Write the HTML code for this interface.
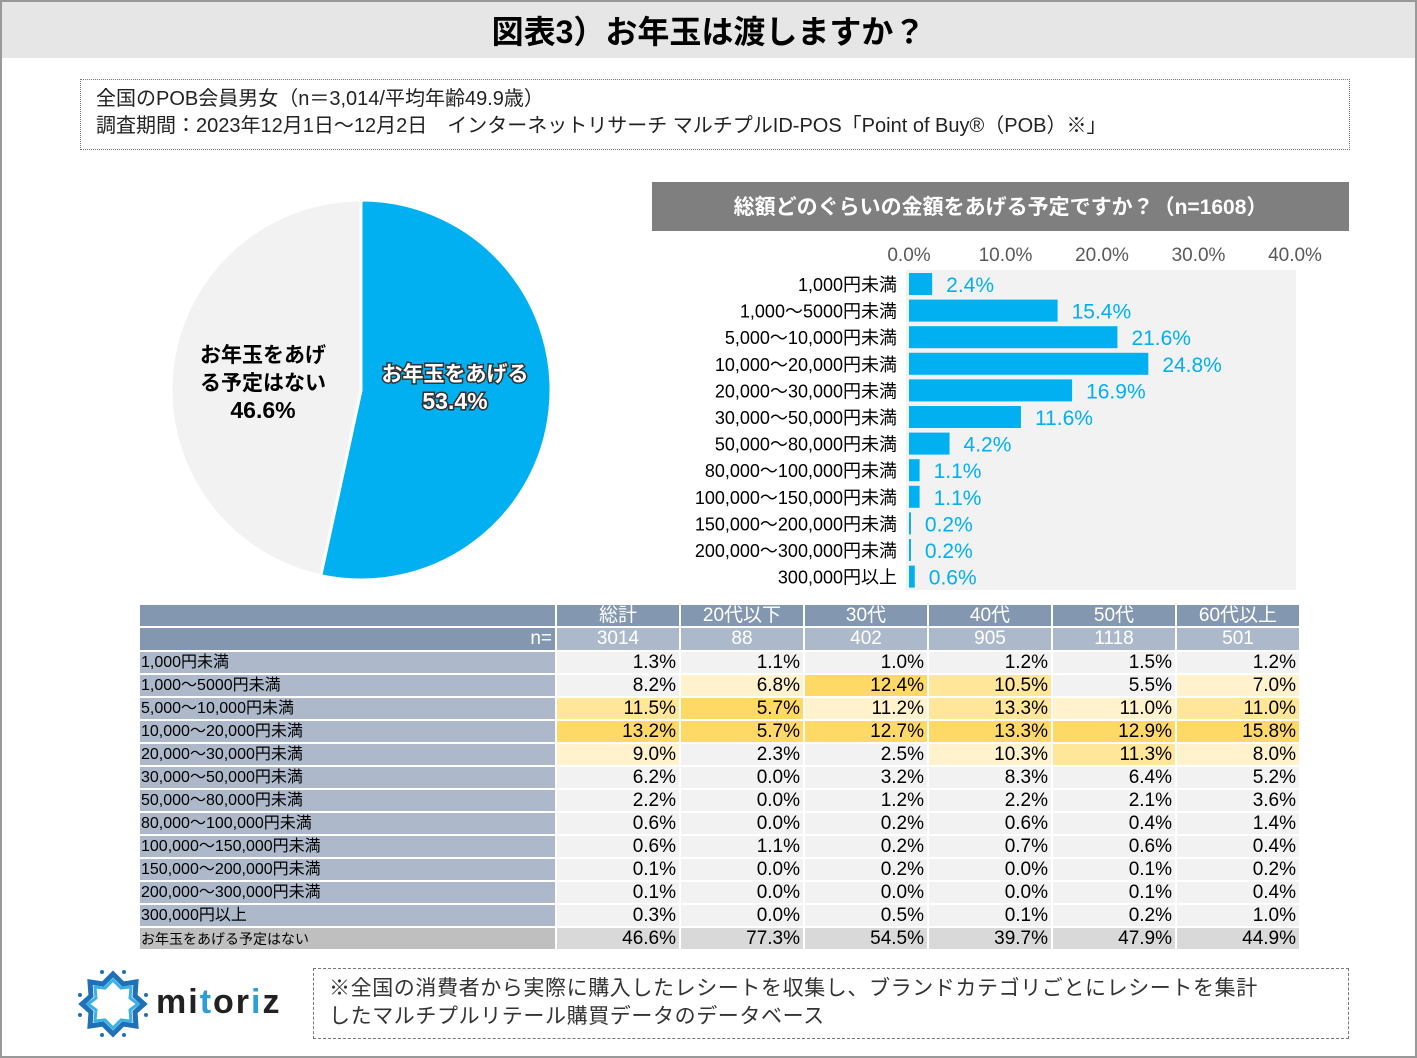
<!DOCTYPE html>
<html><head><meta charset="utf-8">
<style>
*{margin:0;padding:0;box-sizing:border-box}
body{width:1417px;height:1058px;background:#fff;position:relative;overflow:hidden;font-family:"Liberation Sans","Noto Sans CJK JP",sans-serif;color:#000}
.abs{position:absolute}
#frame{left:0;top:0;width:1417px;height:1058px;border:2px solid #999}
#title{left:2px;top:2px;width:1413px;height:56px;background:#e6e6e6;font-size:32px;font-weight:bold;text-align:center;line-height:60px}
#info{left:80px;top:79px;width:1270px;height:71px;border:1.5px dotted #777;font-size:20px;line-height:27px;padding:6px 15px;color:#222}
#barhead{left:652px;top:182px;width:697px;height:49px;background:#7f7f7f;color:#fff;font-weight:bold;font-size:21px;line-height:52px;text-align:center}
table{position:absolute;left:138px;top:603px;border-collapse:collapse;font-size:19px}
td{padding:0 3px;height:23px;line-height:21px;border:2px solid #fff;white-space:nowrap;overflow:hidden}
tr.d td{height:23px;line-height:20px}
td.l{width:417px;background:#adb9ca;font-size:16px;padding-left:1px}
td.v{text-align:right;background:#f2f2f2}
.h1{background:#8497b0;color:#fff;text-align:center;line-height:20px}
.h2{background:#acb9ca;color:#fff;text-align:center;line-height:22px}
.c1{background:#fff2cc!important}.c2{background:#ffe699!important}.c3{background:#ffd966!important}
#note{left:313px;top:968px;width:1036px;height:71px;border:1.5px dashed #777;font-size:21px;line-height:28px;padding:6px 15px;color:#333;letter-spacing:0.6px}
</style></head><body>
<div class="abs" id="frame"></div>
<div class="abs" id="title">図表3）お年玉は渡しますか？</div>
<div class="abs" id="info">全国のPOB会員男女（n＝3,014/平均年齢49.9歳）<br>調査期間：2023年12月1日～12月2日　インターネットリサーチ マルチプルID-POS「Point of Buy®（POB）※」</div>

<svg class="abs" style="left:0;top:0" width="1417" height="600" id="svg"></svg>
<div class="abs" id="barhead">総額どのぐらいの金額をあげる予定ですか？（n=1608）</div>

<table id="tbl"></table>

<svg class="abs" style="left:78px;top:968px" width="220" height="70">
<polygon points="35,6 45,16 58,14 57,28 66,36 57,44 58,58 45,56 35,66 25,56 12,58 13,44 4,36 13,28 12,14 25,16" fill="none" stroke="#1e70b8" stroke-width="5"/>
<polygon points="35,12 43,20 53,19 52,30 60,36 52,42 53,53 43,52 35,60 27,52 17,53 18,42 10,36 18,30 17,19 27,20" fill="none" stroke="#3bb0e6" stroke-width="3"/>
<g fill="#1e70b8"><circle cx="24" cy="4" r="2"/><circle cx="46" cy="4" r="2"/><circle cx="2" cy="27" r="2"/><circle cx="68" cy="27" r="2"/><circle cx="2" cy="47" r="2"/><circle cx="68" cy="47" r="2"/><circle cx="24" cy="67" r="2"/><circle cx="46" cy="67" r="2"/></g>
<text x="78" y="45" font-size="34" font-weight="bold" fill="#222" font-family="Liberation Sans, sans-serif" letter-spacing="2">mi<tspan fill="#2a9fd8">t</tspan>or<tspan fill="#2a9fd8">i</tspan>z</text>
</svg>
<div class="abs" id="note">※全国の消費者から実際に購入したレシートを収集し、ブランドカテゴリごとにレシートを集計<br>したマルチプルリテール購買データのデータベース</div>

<script>
const pieLabels=["お年玉をあげる","お年玉をあげる予定はない"];
const pieValues=[53.4,46.6];
const barCats=["1,000円未満","1,000～5000円未満","5,000～10,000円未満","10,000～20,000円未満","20,000～30,000円未満","30,000～50,000円未満","50,000～80,000円未満","80,000～100,000円未満","100,000～150,000円未満","150,000～200,000円未満","200,000～300,000円未満","300,000円以上"];
const barValues=[2.4,15.4,21.6,24.8,16.9,11.6,4.2,1.1,1.1,0.2,0.2,0.6];
const tickLabels=["0.0%","10.0%","20.0%","30.0%","40.0%"];
const tickValues=[0,10,20,30,40];
const colHeads=["総計","20代以下","30代","40代","50代","60代以上"];
const colN=["3014","88","402","905","1118","501"];
const rowCats=barCats.concat(["お年玉をあげる予定はない"]);
const tableValues=[
[1.3,1.1,1.0,1.2,1.5,1.2],[8.2,6.8,12.4,10.5,5.5,7.0],[11.5,5.7,11.2,13.3,11.0,11.0],[13.2,5.7,12.7,13.3,12.9,15.8],
[9.0,2.3,2.5,10.3,11.3,8.0],[6.2,0.0,3.2,8.3,6.4,5.2],[2.2,0.0,1.2,2.2,2.1,3.6],[0.6,0.0,0.2,0.6,0.4,1.4],
[0.6,1.1,0.2,0.7,0.6,0.4],[0.1,0.0,0.2,0.0,0.1,0.2],[0.1,0.0,0.0,0.0,0.1,0.4],[0.3,0.0,0.5,0.1,0.2,1.0],[46.6,77.3,54.5,39.7,47.9,44.9]];
const heat=[[0,0,0,0,0,0],[0,1,3,2,0,1],[2,3,1,2,1,2],[3,3,3,3,3,3],[1,0,0,1,2,1]];

const NS="http://www.w3.org/2000/svg";
const svg=document.getElementById('svg');
function mk(t,a,p){const e=document.createElementNS(NS,t);for(const k in a)e.setAttribute(k,a[k]);(p||svg).appendChild(e);return e;}
const cx=361,cy=390,R=190;
let ang=0;const tot=pieValues.reduce((a,b)=>a+b,0);
const pieCols=["#00b0f0","#f2f2f2"];
pieValues.forEach((v,i)=>{
  const a0=ang,a1=ang+v/tot*2*Math.PI;ang=a1;
  const x0=cx+R*Math.sin(a0),y0=cy-R*Math.cos(a0),x1=cx+R*Math.sin(a1),y1=cy-R*Math.cos(a1);
  const p=mk('path',{d:`M${cx},${cy}L${x0},${y0}A${R},${R} 0 ${a1-a0>Math.PI?1:0} 1 ${x1},${y1}Z`,fill:pieCols[i],stroke:'#fff','stroke-width':3});
  
  
});
function tx(x,y,s,o){const t=mk('text',Object.assign({x:x,y:y,'font-size':21,'font-weight':'bold','text-anchor':'middle'},o||{}));t.textContent=s;return t;}
let t;
t=tx(455,381,"お年玉をあげる",{fill:'#fff',stroke:'#333','stroke-width':3,'paint-order':'stroke'});
t=tx(455,409,pieValues[0].toFixed(1)+"%",{fill:'#fff',stroke:'#333','stroke-width':3,'paint-order':'stroke','font-size':23});
t=tx(263,362,"お年玉をあげ");
t=tx(263,390,"る予定はない");
t=tx(263,418,pieValues[1].toFixed(1)+"%",{'font-size':23});
const x0b=909,pxPer=9.65,yTop=284,rowH=26.6,bh=22;
const X=v=>x0b+v*pxPer, Y=i=>yTop+i*rowH;
const bg=mk('rect',{x:906,y:270,width:390,height:320,fill:'#f2f2f2'});

tickValues.forEach((v,i)=>{const e=tx(X(v),261,tickLabels[i],{'font-size':19,'font-weight':'normal',fill:'#595959'});});
barValues.forEach((v,i)=>{
  const r=mk('rect',{x:x0b,y:Y(i)-bh/2,width:Math.max(v*pxPer,1.5),height:bh,fill:'#00b0f0'});
  
  const l=tx(897,Y(i)+7,barCats[i],{'text-anchor':'end','font-size':18,'font-weight':'normal'});
  
  const vl=tx(X(v)+14,Y(i)+8,v.toFixed(1)+"%",{'text-anchor':'start','font-size':21,'font-weight':'normal',fill:'#00b0f0'});
  
});
const tb=document.getElementById('tbl');
let h='<tr><td class="l h1" style="background:#8497b0"></td>';
colHeads.forEach(c=>h+=`<td class="h1" style="width:124px">${c}</td>`);
h+='</tr><tr><td class="l h1" style="text-align:right;background:#8497b0;font-size:19px">n=</td>';
colN.forEach(c=>h+=`<td class="h2">${c}</td>`);
h+='</tr>';
rowCats.forEach((c,r)=>{
  const last=r===rowCats.length-1;
  h+=`<tr class="d"><td class="l" ${last?'style="background:#bfbfbf;font-size:14px"':''}>${c}</td>`;
  tableValues[r].forEach((v,j)=>{const hc=heat[r]?heat[r][j]:0;h+=`<td class="v ${hc?'c'+hc:''}" ${last?'style="background:#d9d9d9"':''}>${v.toFixed(1)}%</td>`;});
  h+='</tr>';
});
tb.innerHTML=h;
</script>
</body></html>
